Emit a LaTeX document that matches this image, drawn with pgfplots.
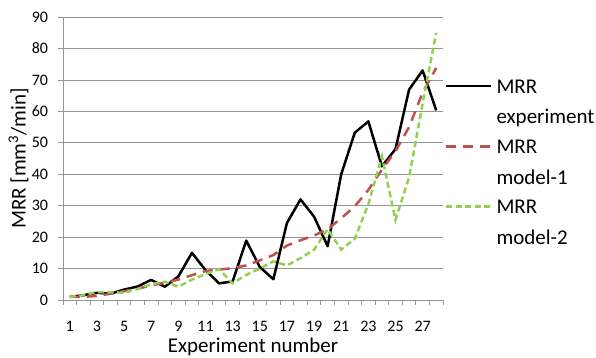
\documentclass[border=0pt]{standalone}
\usepackage{pgfplots}
\pgfplotsset{compat=1.18}
\usepackage{fontspec}
\setmainfont{Carlito}
\definecolor{axisgray}{RGB}{150,150,150}
\definecolor{mred}{RGB}{192,80,77}
\definecolor{mgreen}{RGB}{146,208,80}
\newcommand{\dstrut}{\rule[-6pt]{0pt}{6pt}}
\begin{document}
\begin{tikzpicture}
\begin{axis}[
  at={(0,0)}, anchor=south west,
  scale only axis, width=380pt, height=283pt,
  xmin=0.5, xmax=28.5, ymin=0, ymax=90,
  axis lines=left, axis line style={-, draw=axisgray, line width=0.75pt},
  xtick={1,3,...,27},
  minor xtick={0.5,1.5,...,28.5},
  ytick={0,10,...,90},
  minor ytick={0,10,...,90},
  major tick length=0pt, minor tick length=5pt, tick align=outside,
  tick style={draw=axisgray, line width=0.75pt},
  ymajorgrids=true,
  major grid style={draw=axisgray, line width=0.75pt},
  /pgf/number format/assume math mode=true,
  ticklabel style={font=\fontsize{16}{19}\selectfont, inner sep=0pt},
  xticklabel style={anchor=north},
  yticklabel style={anchor=east},
  x tick label style={yshift=-21pt},
  y tick label style={xshift=-14.7pt},
  xlabel={Experiment number},
  ylabel={MRR [mm\textsuperscript{3}/min]},
  every axis x label/.style={at={(axis description cs:0.5,-0.165)}, anchor=center, font=\fontsize{21}{25}\selectfont},
  every axis y label/.style={at={(axis description cs:-0.117,0.5)}, rotate=90, anchor=center, font=\fontsize{21}{25}\selectfont},
  legend style={draw=none, fill=none, at={(axis description cs:1,1)}, xshift=2pt, yshift=-63pt,
    anchor=north west, inner sep=0pt, outer sep=0pt, row sep=14.7pt, column sep=4pt,
    font=\fontsize{21}{25}\selectfont,
    nodes={inner sep=0pt, outer sep=0pt, align=left}},
  legend cell align=left,
  legend image code/.code={\draw[#1] (0pt,16.5pt) -- (45pt,16.5pt);},
]
\addplot[black, line width=2.5pt, line join=round] coordinates {
(1,1.0) (2,1.5) (3,2.3) (4,2.0) (5,3.3) (6,4.3) (7,6.4) (8,4.2) (9,7.5) (10,15.0)
(11,9.5) (12,5.3) (13,5.9) (14,18.9) (15,10.5) (16,6.6) (17,24.5) (18,32.0) (19,26.5) (20,17.1)
(21,40.0) (22,53.2) (23,56.8) (24,42.5) (25,48.0) (26,66.9) (27,73.0) (28,60.3)};
\addlegendentry{MRR\\[5.5pt]experiment\dstrut}
\addplot[mred, line width=2.5pt, dash pattern=on 10pt off 7pt] coordinates {
(1,1.0) (2,1.0) (3,1.3) (4,2.0) (5,2.8) (6,3.6) (7,4.6) (8,5.5) (9,6.5) (10,7.9)
(11,9.2) (12,9.7) (13,10.1) (14,11.0) (15,12.6) (16,14.3) (17,17.3) (18,19.0) (19,20.5) (20,22.5)
(21,26.0) (22,29.8) (23,35.0) (24,41.5) (25,47.3) (26,55.0) (27,66.0) (28,73.8)};
\addlegendentry{MRR\\[5.5pt]model-1\dstrut}
\addplot[mgreen, line width=2.5pt, dash pattern=on 6pt off 3.5pt] coordinates {
(1,1.0) (2,1.5) (3,2.5) (4,2.5) (5,2.3) (6,3.5) (7,5.0) (8,5.8) (9,4.2) (10,6.5)
(11,8.2) (12,9.8) (13,5.3) (14,8.0) (15,10.0) (16,12.3) (17,11.0) (18,13.3) (19,16.0) (20,22.5)
(21,16.0) (22,19.5) (23,30.5) (24,45.6) (25,25.5) (26,39.0) (27,62.5) (28,85.0)};
\addlegendentry{MRR\\[5.5pt]model-2\dstrut}
\end{axis}
\pgfresetboundingbox
\useasboundingbox (-63pt,-58pt) rectangle (533pt,300pt);
\end{tikzpicture}
\end{document}
